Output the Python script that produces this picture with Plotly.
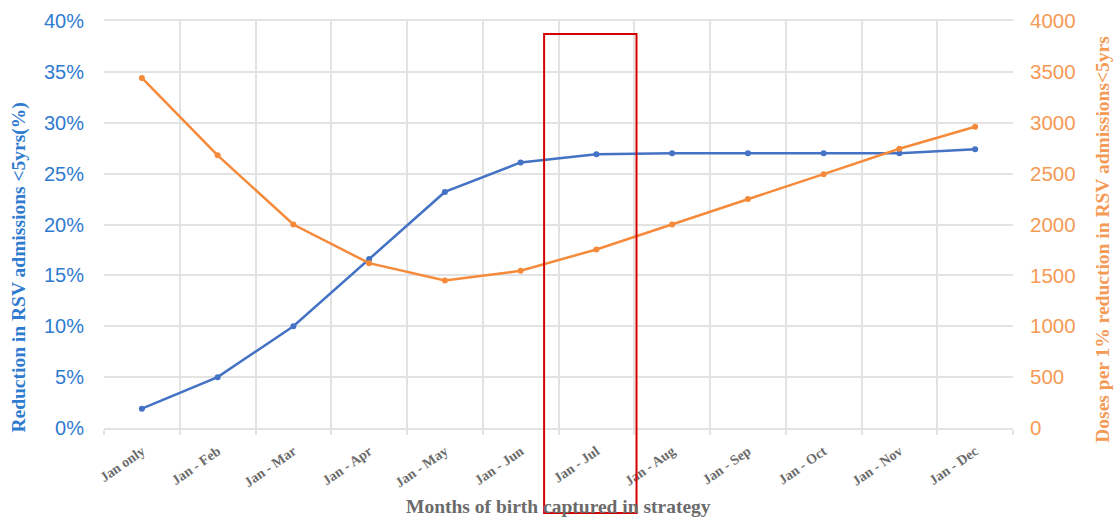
import plotly.graph_objects as go

# Strategy: which months of birth are captured
categories = ["Jan only", "Jan - Feb", "Jan - Mar", "Jan - Apr", "Jan - May", "Jan - Jun",
              "Jan - Jul", "Jan - Aug", "Jan - Sep", "Jan - Oct", "Jan - Nov", "Jan - Dec"]

# Reduction in RSV admissions <5yrs (%)
reduction_pct = [1.9, 5.0, 10.0, 16.6, 23.2, 26.1, 26.9, 27.0, 27.0, 27.0, 27.0, 27.4]

# Doses per 1% reduction in RSV admissions <5yrs
doses_per_pct = [3440, 2680, 2000, 1620, 1450, 1545, 1755, 2000, 2250, 2495, 2745, 2960]

left_ticks = [0, 5, 10, 15, 20, 25, 30, 35, 40]
left_tick_text = [f"{v}%" for v in left_ticks]
right_ticks = [0, 500, 1000, 1500, 2000, 2500, 3000, 3500, 4000]

BLUE_LINE = "#4472c4"
BLUE_TEXT = "#2f7bd0"
ORANGE_LINE = "#f58a3a"
ORANGE_TEXT = "#f59a55"
GRID = "#e3e3e3"
GREY_TEXT = "#6b6b6b"
SERIF = "Liberation Serif, Times New Roman, serif"
SANS = "Liberation Sans, Arial, sans-serif"

fig = go.Figure()

fig.add_trace(go.Scatter(
    x=categories, y=reduction_pct, mode="lines+markers",
    line=dict(color=BLUE_LINE, width=2.5),
    marker=dict(color=BLUE_LINE, size=6),
    yaxis="y", showlegend=False,
))
fig.add_trace(go.Scatter(
    x=categories, y=doses_per_pct, mode="lines+markers",
    line=dict(color=ORANGE_LINE, width=2.5),
    marker=dict(color=ORANGE_LINE, size=6),
    yaxis="y2", showlegend=False,
))

fig.update_layout(
    width=1115, height=519,
    margin=dict(l=104, r=102, t=21, b=91, autoexpand=False),
    paper_bgcolor="white", plot_bgcolor="white",
    xaxis=dict(
        type="category", categoryorder="array", categoryarray=categories,
        range=[-0.5, len(categories) - 0.5], automargin=False,
        tickson="boundaries", showgrid=True, gridcolor=GRID, gridwidth=1.5,
        ticks="outside", ticklen=5, tickcolor=GRID, tickwidth=1.5,
        tickangle=-35, ticklabelstandoff=8,
        tickfont=dict(family=SERIF, size=14, color=GREY_TEXT, weight="bold"),
        showline=True, linecolor=GRID, linewidth=1.5, mirror=True,
        zeroline=False,
    ),
    yaxis=dict(
        range=[0, 40], tickvals=left_ticks, ticktext=left_tick_text,
        showgrid=True, gridcolor=GRID, gridwidth=1.5, automargin=False,
        tickfont=dict(family=SANS, size=20, color=BLUE_TEXT),
        ticks="", ticklabelstandoff=19,
        showline=False, zeroline=False,
    ),
    yaxis2=dict(
        range=[0, 4000], tickvals=right_ticks, automargin=False,
        overlaying="y", side="right", showgrid=False,
        tickfont=dict(family=SANS, size=20.5, color=ORANGE_TEXT),
        ticks="", ticklabelstandoff=16,
        showline=False, zeroline=False,
    ),
    shapes=[dict(
        type="rect", xref="x", yref="paper",
        x0=5.31, x1=6.53, y0=-0.209, y1=0.968,
        line=dict(color="#d40000", width=2), fillcolor="rgba(0,0,0,0)",
        layer="above",
    )],
    annotations=[
        dict(text="Reduction in RSV admissions <5yrs(%)", textangle=-90,
             xref="paper", yref="paper", x=-0.094, y=0.393,
             xanchor="center", yanchor="middle", showarrow=False,
             font=dict(family=SERIF, size=19.5, color=BLUE_TEXT, weight="bold")),
        dict(text="Doses per 1% reduction in RSV admissions<5yrs", textangle=-90,
             xref="paper", yref="paper", x=1.099, y=0.465,
             xanchor="center", yanchor="middle", showarrow=False,
             font=dict(family=SERIF, size=19.5, color=ORANGE_TEXT, weight="bold")),
        dict(text="Months of birth captured in strategy",
             xref="paper", yref="paper", x=0.5, y=-0.194,
             xanchor="center", yanchor="middle", showarrow=False,
             font=dict(family=SERIF, size=19.5, color=GREY_TEXT, weight="bold")),
    ],
)

fig.write_html("out.html")
